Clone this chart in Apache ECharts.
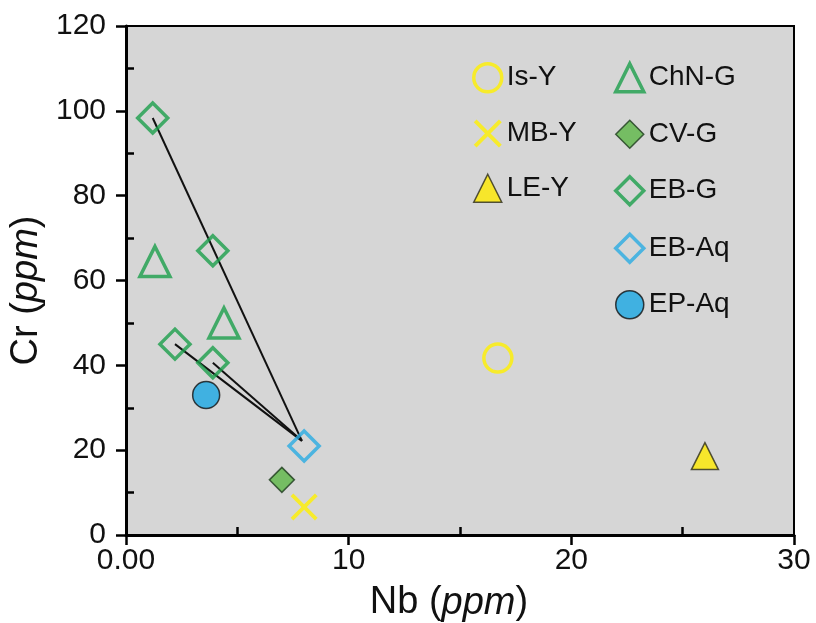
<!DOCTYPE html>
<html><head><meta charset="utf-8">
<script src="https://cdn.jsdelivr.net/npm/echarts@6/dist/echarts.min.js"></script>
<style>html,body{margin:0;padding:0;background:#fff}#c{width:816px;height:623px}</style>
</head><body><div id="c"></div>
<script>
// ---- data ----
const isY   = [[16.7, 41.7]];
const mbY   = [[8.0, 6.6]];
const leY   = [[26.0, 18.6]];
const chnG  = [[1.3, 64.5], [4.4, 50.0]];
const cvG   = [[7.0, 13.0]];
const ebG   = [[1.2, 98.3], [3.9, 67.0], [2.2, 45.0], [3.9, 40.6]];
const ebAq  = [[8.0, 21.0]];
const epAq  = [[3.6, 33.0]];
const tieLines = [
  [[1.2, 98.3], [7.9, 22.2]],
  [[2.2, 45.0], [7.9, 22.2]],
  [[3.9, 40.6], [7.9, 22.2]]
];
const xTicks = [0, 10, 20, 30];
const yTicks = [0, 20, 40, 60, 80, 100, 120];

const YEL = '#fff000', GRN = '#1c9f4b', BLU = '#29abe2';
const crossPath = 'path://M0,2 L2,0 L10,8 L18,0 L20,2 L12,10 L20,18 L18,20 L10,12 L2,20 L0,18 L8,10 Z';
const font = 'Liberation Sans, Arial, sans-serif';

const lineSeries = tieLines.map(seg => ({
  type: 'line', data: seg, symbol: 'none', silent: true, z: 1,
  lineStyle: { color: '#111', width: 2 }
}));

const pts = [
  { name: 'Is-Y', data: isY, symbol: 'circle', symbolSize: 28, itemStyle: { color: 'rgba(0,0,0,0)', borderColor: YEL, borderWidth: 3.5 } },
  { name: 'MB-Y', data: mbY, symbol: crossPath, symbolSize: 27, itemStyle: { color: YEL } },
  { name: 'LE-Y', data: leY, symbol: 'triangle', symbolSize: 27, itemStyle: { color: '#ffea00', borderColor: '#2a2a1a', borderWidth: 1.5 } },
  { name: 'ChN-G', data: chnG, symbol: 'triangle', symbolSize: 30, itemStyle: { color: 'rgba(0,0,0,0)', borderColor: GRN, borderWidth: 3.5 } },
  { name: 'CV-G', data: cvG, symbol: 'diamond', symbolSize: 25, itemStyle: { color: '#5cb646', borderColor: '#1d3b1d', borderWidth: 1.5 } },
  { name: 'EB-G', data: ebG, symbol: 'diamond', symbolSize: 30, itemStyle: { color: 'rgba(0,0,0,0)', borderColor: GRN, borderWidth: 3.5 } },
  { name: 'EB-Aq', data: ebAq, symbol: 'diamond', symbolSize: 30, itemStyle: { color: 'rgba(0,0,0,0)', borderColor: BLU, borderWidth: 3.5 } },
  { name: 'EP-Aq', data: epAq, symbol: 'circle', symbolSize: 27, itemStyle: { color: '#1aa7e4', borderColor: '#111', borderWidth: 1.5 } }
].map(s => Object.assign({ type: 'scatter', z: 3 }, s));

const legendBase = {
  orient: 'vertical', itemWidth: 28, itemHeight: 28, itemGap: 26, padding: 0,
  textStyle: { fontSize: 28, color: '#111', fontFamily: font },
  selectedMode: false
};
const legItem = (n, bw) => ({ name: n, itemStyle: { borderWidth: bw } });

const nameFont = 38;
const rich = { i: { fontStyle: 'italic', fontSize: nameFont, fontFamily: font, color: '#111' } };

const chart = echarts.init(document.getElementById('c'));
chart.setOption({
  animation: false,
  backgroundColor: '#fff',
  grid: { left: 126, right: 22, top: 26, bottom: 88, outerBoundsMode: 'none', containLabel: false,
    show: true, backgroundColor: '#d6d6d6', borderColor: '#000', borderWidth: 2 },
  legend: [
    Object.assign({ left: 472, top: 62, data: [legItem('Is-Y', 3.5), legItem('MB-Y', 0), legItem('LE-Y', 1.5)] }, legendBase),
    Object.assign({ left: 614, top: 62, data: [legItem('ChN-G', 3.5), legItem('CV-G', 1.5), legItem('EB-G', 3.5), legItem('EB-Aq', 3.5), legItem('EP-Aq', 1.5)] }, legendBase)
  ],
  xAxis: {
    type: 'value', min: xTicks[0], max: xTicks[xTicks.length - 1], interval: 10,
    name: 'Nb ({i|ppm})', nameLocation: 'middle', nameGap: 49,
    nameTextStyle: { fontSize: nameFont, color: '#111', fontFamily: font, rich: rich, padding: [0, 22, 0, 0] },
    axisLine: { lineStyle: { color: '#000', width: 3 } },
    axisTick: { length: 10, lineStyle: { color: '#000', width: 2.5 } },
    minorTick: { show: true, splitNumber: 2, length: -8, lineStyle: { color: '#000', width: 2.5 } },
    splitLine: { show: false },
    axisLabel: { fontSize: 30, color: '#111', fontFamily: font, margin: 11,
      formatter: v => v === 0 ? '0.00' : String(v) }
  },
  yAxis: {
    type: 'value', min: yTicks[0], max: yTicks[yTicks.length - 1], interval: 20,
    name: 'Cr ({i|ppm})', nameLocation: 'middle', nameGap: 78, nameRotate: 90,
    nameTextStyle: { fontSize: nameFont, color: '#111', fontFamily: font, rich: rich, padding: [0, 20, 0, 0] },
    axisLine: { lineStyle: { color: '#000', width: 3 } },
    axisTick: { length: 10, lineStyle: { color: '#000', width: 2.5 } },
    minorTick: { show: true, splitNumber: 2, length: -8, lineStyle: { color: '#000', width: 2.5 } },
    splitLine: { show: false },
    axisLabel: { fontSize: 30, color: '#111', fontFamily: font, margin: 20 }
  },
  series: lineSeries.concat(pts)
});
</script></body></html>
